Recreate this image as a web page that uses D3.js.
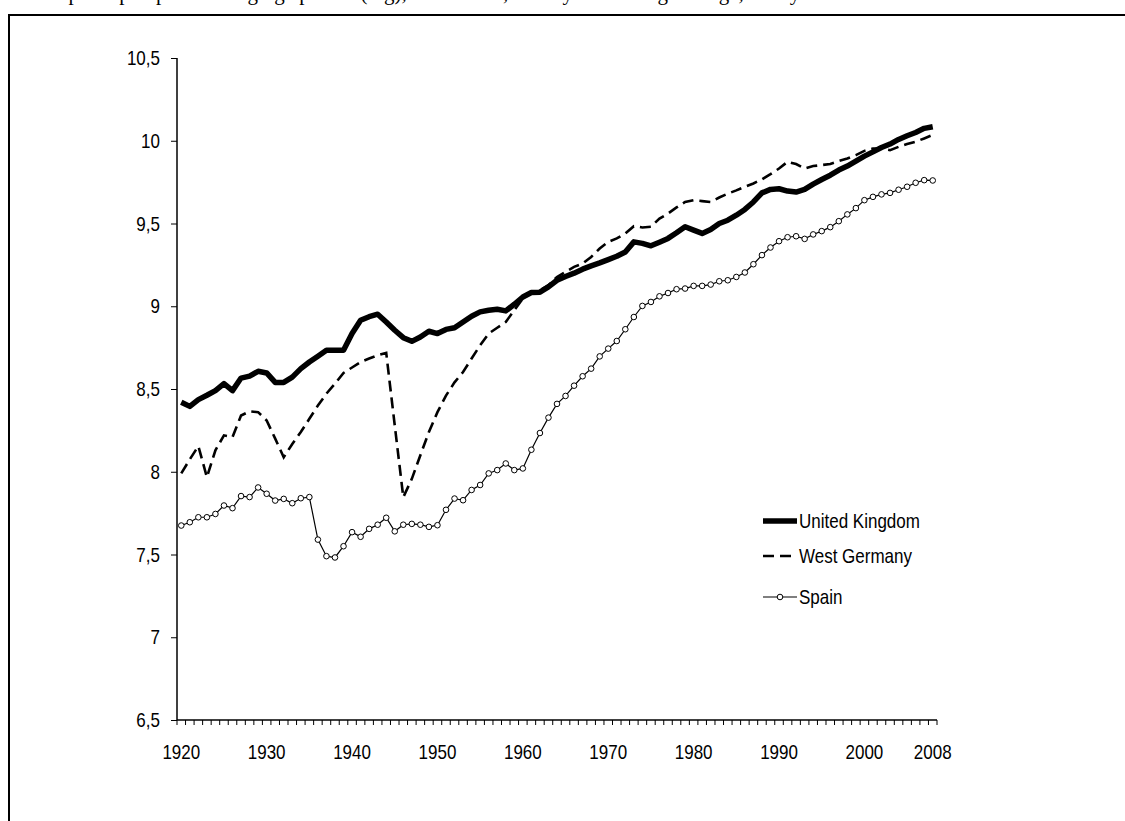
<!DOCTYPE html>
<html>
<head>
<meta charset="utf-8">
<script src="https://cdn.jsdelivr.net/npm/d3@7"></script>
<style>
  html, body { margin: 0; padding: 0; background: #fff; overflow: hidden; }
  svg { display: block; }
  text { font-family: "Liberation Sans", Arial, sans-serif; }
</style>
</head>
<body>
<svg id="chart" width="1125" height="821"></svg>
<script>
// ---------- data ----------
const years = d3.range(1920, 2009);
const yTicks = [6.5, 7, 7.5, 8, 8.5, 9, 9.5, 10, 10.5];
const xLabels = [1920, 1930, 1940, 1950, 1960, 1970, 1980, 1990, 2000, 2008];
const seriesNames = ["United Kingdom", "West Germany", "Spain"];
const caption = "GDP per capita per working-age person (log), 1920-2008, three-year moving average, Geary-Khamis 1990 dollars";

const uk = [
  8.42, 8.395, 8.436, 8.462, 8.49, 8.532, 8.49, 8.566, 8.578, 8.607,
  8.597, 8.54, 8.54, 8.572, 8.623, 8.663, 8.698, 8.734, 8.734, 8.734,
  8.835, 8.915, 8.937, 8.952, 8.905, 8.855, 8.81, 8.788, 8.814, 8.849,
  8.835, 8.86, 8.87, 8.905, 8.94, 8.966, 8.976, 8.982, 8.972, 9.012,
  9.056, 9.083, 9.085, 9.117, 9.157, 9.18, 9.2, 9.224, 9.244, 9.262,
  9.282, 9.302, 9.328, 9.389, 9.38, 9.365, 9.387, 9.41, 9.444, 9.48,
  9.46, 9.44, 9.464, 9.5, 9.52, 9.55, 9.585, 9.63, 9.685, 9.706,
  9.71, 9.696, 9.69, 9.706, 9.738, 9.766, 9.792, 9.823, 9.847, 9.877,
  9.907, 9.933, 9.959, 9.98, 10.008, 10.03, 10.05, 10.075, 10.085
];
const westGermany = [
  7.99, 8.075, 8.155, 7.967, 8.13, 8.22, 8.21, 8.34, 8.365, 8.36,
  8.31, 8.2, 8.088, 8.168, 8.24, 8.32, 8.4, 8.472, 8.532, 8.597,
  8.63, 8.663, 8.684, 8.704, 8.718, 8.28, 7.846, 7.957, 8.1, 8.24,
  8.36, 8.46, 8.54, 8.603, 8.684, 8.764, 8.835, 8.87, 8.905, 8.976,
  9.046, 9.083, 9.097, 9.127, 9.177, 9.208, 9.238, 9.258, 9.298, 9.349,
  9.389, 9.41, 9.44, 9.484, 9.476, 9.48, 9.53, 9.56, 9.597, 9.63,
  9.641, 9.635, 9.63, 9.657, 9.68, 9.7, 9.722, 9.742, 9.767, 9.798,
  9.832, 9.873, 9.859, 9.832, 9.847, 9.853, 9.859, 9.877, 9.893, 9.913,
  9.939, 9.953, 9.953, 9.943, 9.963, 9.98, 9.994, 10.014, 10.035
];
const spain = [
  7.675, 7.695, 7.725, 7.725, 7.745, 7.796, 7.78, 7.853, 7.847, 7.905,
  7.867, 7.826, 7.836, 7.81, 7.84, 7.847, 7.59, 7.49, 7.482, 7.55,
  7.635, 7.607, 7.655, 7.68, 7.722, 7.64, 7.68, 7.685, 7.68, 7.667,
  7.677, 7.77, 7.838, 7.828, 7.89, 7.92, 7.99, 8.01, 8.05, 8.01,
  8.02, 8.133, 8.234, 8.327, 8.41, 8.458, 8.52, 8.577, 8.623, 8.697,
  8.744, 8.79, 8.861, 8.935, 9.002, 9.026, 9.06, 9.08, 9.103, 9.107,
  9.123, 9.123, 9.131, 9.151, 9.157, 9.177, 9.204, 9.254, 9.309, 9.355,
  9.393, 9.417, 9.423, 9.407, 9.434, 9.454, 9.478, 9.514, 9.555, 9.593,
  9.641, 9.661, 9.676, 9.685, 9.704, 9.722, 9.746, 9.762, 9.76
];

// ---------- layout ----------
const svg = d3.select("#chart");
const plot = { left: 177, right: 937, top: 58, bottom: 720 };
const FS = 20, SX = 0.85;   // font size and horizontal condensing

const x = d3.scaleBand().domain(years).range([plot.left, plot.right]).padding(0);
const cx = yr => x(yr) + x.bandwidth() / 2;
const y = d3.scaleLinear().domain([6.5, 10.5]).range([plot.bottom, plot.top]);
const fmt = d => (Number.isInteger(d) ? String(d) : String(d).replace(".", ","));

function label(g, px, py, txt, anchor) {
  return g.append("text")
    .attr("transform", `translate(${px},${py}) scale(${SX},1)`)
    .attr("text-anchor", anchor || "start")
    .style("font-size", FS + "px")
    .attr("fill", "#000")
    .text(txt);
}

// outer frame (clipped by the window at right/bottom)
svg.append("rect")
  .attr("x", 9).attr("y", 15)
  .attr("width", 1200).attr("height", 900)
  .attr("fill", "none").attr("stroke", "#000").attr("stroke-width", 2);

// caption, mostly clipped off the top as in the reference
svg.append("text")
  .attr("x", 22).attr("y", 0)
  .style("font-family", "'Liberation Serif', 'Times New Roman', serif")
  .style("font-size", "21px")
  .text(caption);

// y axis (ticks from d3, labels drawn condensed)
const yAxis = svg.append("g")
  .attr("transform", `translate(${plot.left},0)`)
  .call(d3.axisLeft(y).tickValues(yTicks).tickFormat("").tickSize(6));
yAxis.select(".domain").attr("stroke", "#000").attr("stroke-width", 1.5)
  .attr("d", `M0,${plot.bottom}V${plot.top}`);
yAxis.selectAll(".tick line").attr("stroke", "#000").attr("stroke-width", 1);
const yl = svg.append("g");
yTicks.forEach(v => label(yl, plot.left - 17, y(v) + 7, fmt(v), "end"));

// x axis: line + boundary ticks + labels at category centres
const xg = svg.append("g");
xg.append("line")
  .attr("x1", plot.left).attr("x2", plot.right)
  .attr("y1", plot.bottom).attr("y2", plot.bottom)
  .attr("stroke", "#000").attr("stroke-width", 1.5);
const bounds = years.map(v => x(v)).concat([x(years[years.length - 1]) + x.bandwidth()]);
xg.selectAll("line.tk").data(bounds).enter().append("line")
  .attr("class", "tk")
  .attr("x1", d => d).attr("x2", d => d)
  .attr("y1", plot.bottom).attr("y2", plot.bottom + 5)
  .attr("stroke", "#000").attr("stroke-width", 1);
xLabels.forEach(v => label(xg, cx(v), plot.bottom + 39, String(v), "middle"));

// series
const line = d3.line().x((d, i) => cx(years[i])).y(d => y(d));

svg.append("path").datum(westGermany)
  .attr("d", line).attr("fill", "none").attr("stroke", "#000")
  .attr("stroke-width", 2.6).attr("stroke-dasharray", "11,6");

svg.append("path").datum(spain)
  .attr("d", line).attr("fill", "none").attr("stroke", "#000")
  .attr("stroke-width", 1.2);
svg.selectAll("circle.sp").data(spain).enter().append("circle")
  .attr("class", "sp")
  .attr("cx", (d, i) => cx(years[i])).attr("cy", d => y(d))
  .attr("r", 2.8).attr("fill", "#fff").attr("stroke", "#000").attr("stroke-width", 1);

svg.append("path").datum(uk)
  .attr("d", line).attr("fill", "none").attr("stroke", "#000")
  .attr("stroke-width", 5.5).attr("stroke-linejoin", "round");

// legend
const lg = svg.append("g");
const legY = [521, 556, 597];
const lx1 = 763, lx2 = 797;
lg.append("line").attr("x1", lx1).attr("x2", lx2).attr("y1", legY[0]).attr("y2", legY[0])
  .attr("stroke", "#000").attr("stroke-width", 5.5);
lg.append("line").attr("x1", lx1).attr("x2", lx2).attr("y1", legY[1]).attr("y2", legY[1])
  .attr("stroke", "#000").attr("stroke-width", 2.6).attr("stroke-dasharray", "11,6");
lg.append("line").attr("x1", lx1).attr("x2", lx2).attr("y1", legY[2]).attr("y2", legY[2])
  .attr("stroke", "#000").attr("stroke-width", 1.2);
lg.append("circle").attr("cx", (lx1 + lx2) / 2).attr("cy", legY[2]).attr("r", 2.8)
  .attr("fill", "#fff").attr("stroke", "#000").attr("stroke-width", 1);
seriesNames.forEach((n, i) => label(lg, lx2 + 2, legY[i] + 7, n, "start"));
</script>
</body>
</html>
